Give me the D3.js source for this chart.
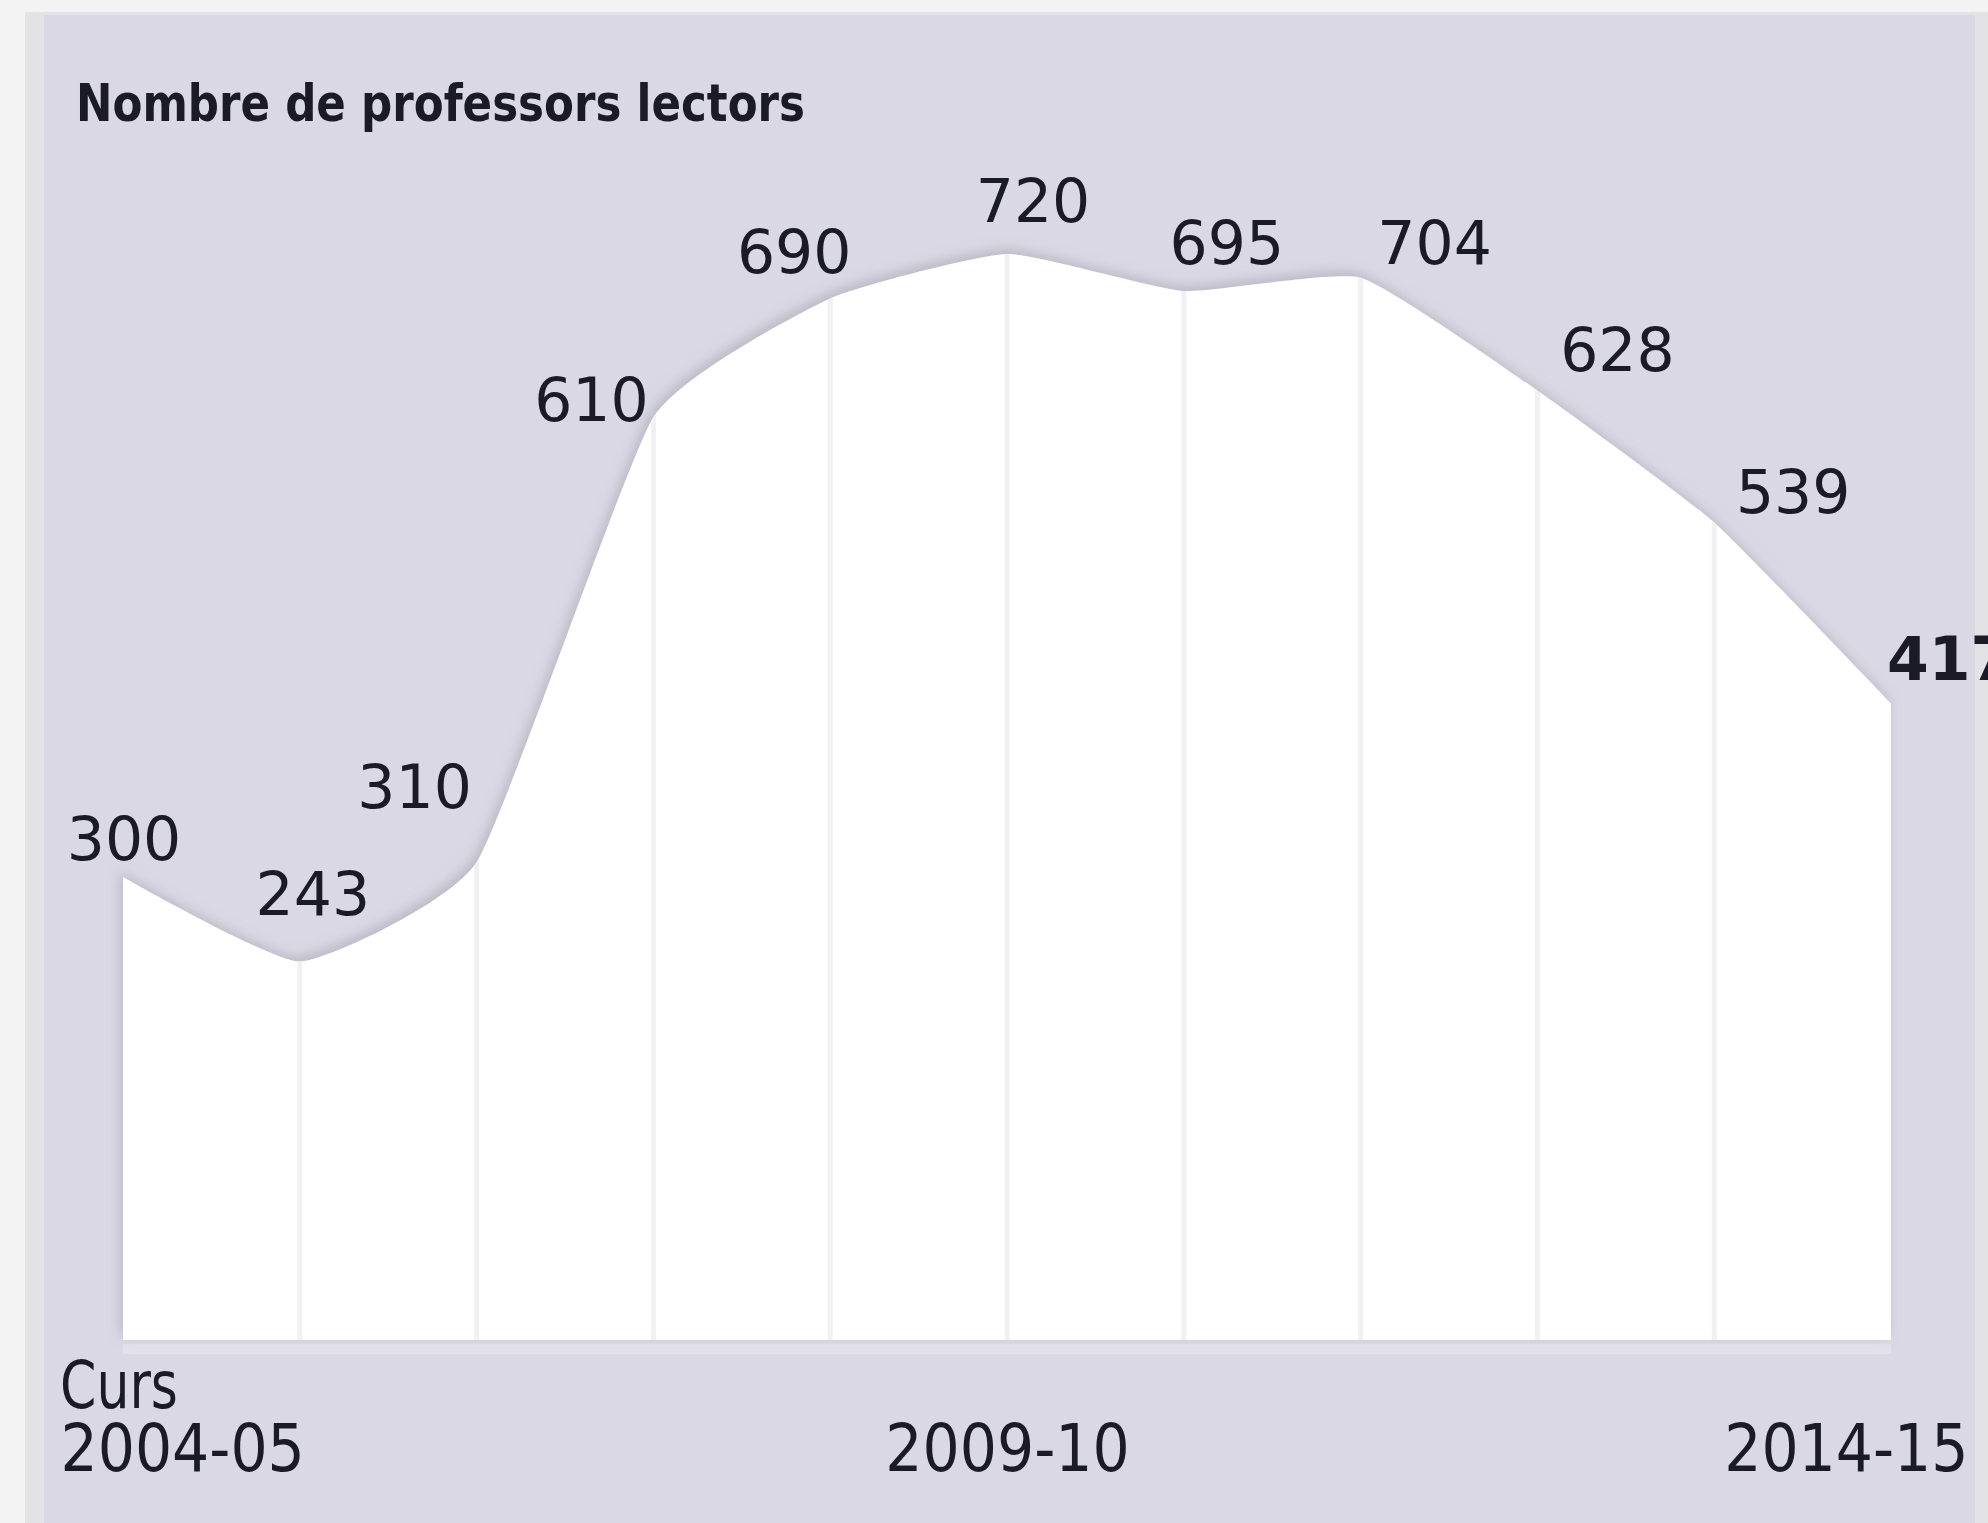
<!DOCTYPE html>
<html>
<head>
<meta charset="utf-8">
<script src="https://d3js.org/d3.v7.min.js"></script>
<style>
body{margin:0;background:#f3f3f3;}
svg{display:block;}
text{fill:#1b1b27;}
</style>
</head>
<body>
<div class="chart"></div>
<script>
// data
const courses = ['2004-05','2005-06','2006-07','2007-08','2008-09','2009-10','2010-11','2011-12','2012-13','2013-14','2014-15'];
const teachers = [300, 243, 310, 610, 690, 720, 695, 704, 628, 539, 417];
const tickCourses = ['2004-05', '2009-10', '2014-15'];
const title = 'Nombre de professors lectors';
const axisTitle = 'Curs';

// label nudges (px) so the numbers sit outside the curve
const labelOffsets = [[1,-17],[13,-47],[-62,-54],[-62,4],[-36,-26],[26,-32],[43,-27],[74,-14],[80,-19],[79,-9],[-4,-23]];

const width = 1988, height = 1523;
const baseline = 1340;

const x = d3.scalePoint()
  .domain(courses)
  .range([123, 1891]);

const y = d3.scaleLinear()
  .domain([0, 720])
  .range([1322, 254]);

const area = d3.area()
  .x((d,i)=>x(courses[i]))
  .y0(baseline)
  .y1(d=>y(d))
  .curve(d3.curveCardinal.tension(0.55));

const svg = d3.select('.chart')
  .append('svg')
    .attr('width', width)
    .attr('height', height);

const defs = svg.append('defs');
defs.append('filter')
    .attr('id', 'shadow')
    .attr('x', '-10%').attr('y', '-10%')
    .attr('width', '120%').attr('height', '120%')
  .append('feDropShadow')
    .attr('dx', -3).attr('dy', -5)
    .attr('stdDeviation', 6)
    .attr('flood-color', '#9d9ca8')
    .attr('flood-opacity', 0.5);
defs.append('clipPath')
    .attr('id', 'areaClip')
  .append('path')
    .attr('d', area(teachers));

// panel
svg.append('rect')
    .attr('x', 25).attr('y', 12)
    .attr('width', width - 25).attr('height', height - 12)
    .attr('fill', '#e3e3e5');
svg.append('rect')
    .attr('x', 44).attr('y', 15)
    .attr('width', 1975 - 44).attr('height', height - 15)
    .attr('fill', '#d9d8e4');

// lighter band under the baseline
svg.append('rect')
    .attr('x', x(courses[0])).attr('y', baseline + 4)
    .attr('width', x(courses[courses.length-1]) - x(courses[0]))
    .attr('height', 10)
    .attr('fill', '#e2e1eb');

svg.append('path')
    .attr('d', area(teachers))
    .attr('fill', '#ffffff')
    .attr('filter', 'url(#shadow)');

// faint vertical separators inside the area
svg.append('g')
    .attr('clip-path', 'url(#areaClip)')
  .selectAll('line')
  .data(courses.slice(1, -1))
  .enter()
  .append('line')
    .attr('x1', d=>x(d)).attr('x2', d=>x(d))
    .attr('y1', 200).attr('y2', baseline)
    .attr('stroke', '#f1f1f4')
    .attr('stroke-width', 5);

// value labels
svg.append('g')
  .selectAll('text')
  .data(teachers)
  .enter()
  .append('text')
    .attr('x', (d,i)=>x(courses[i]) + labelOffsets[i][0])
    .attr('y', (d,i)=>y(d) + labelOffsets[i][1])
    .attr('text-anchor', (d,i)=>i === teachers.length-1 ? 'start' : 'middle')
    .attr('font-family', 'DejaVu Sans')
    .attr('font-weight', (d,i)=>i === teachers.length-1 ? 'bold' : 'normal')
    .attr('font-size', 60)
    .text(d=>d);

// title
svg.append('text')
    .attr('x', 76).attr('y', 121)
    .attr('font-family', 'DejaVu Sans Condensed')
    .attr('font-weight', 'bold')
    .attr('font-size', 51)
    .attr('textLength', 729)
    .attr('lengthAdjust', 'spacingAndGlyphs')
    .text(title);

// x axis
const xAxis = d3.axisBottom(x)
  .tickValues(tickCourses)
  .tickSize(0);

const gx = svg.append('g')
    .attr('transform', `translate(0,1471)`)
    .call(xAxis);
gx.select('.domain').remove();
gx.selectAll('text')
    .attr('y', 0)
    .attr('dy', null)
    .attr('font-family', 'DejaVu Sans Condensed')
    .attr('font-size', 65)
    .attr('fill', '#1b1b27')
    .attr('text-anchor', (d,i)=> i === 0 ? 'start' : i === tickCourses.length-1 ? 'end' : 'middle')
    .attr('dx', (d,i)=> i === 0 ? -63 : i === tickCourses.length-1 ? 77 : 0);

svg.append('text')
    .attr('x', 60).attr('y', 1408)
    .attr('font-family', 'DejaVu Sans Condensed')
    .attr('font-size', 65)
    .attr('textLength', 118)
    .attr('lengthAdjust', 'spacingAndGlyphs')
    .text(axisTitle);
</script>
</body>
</html>
